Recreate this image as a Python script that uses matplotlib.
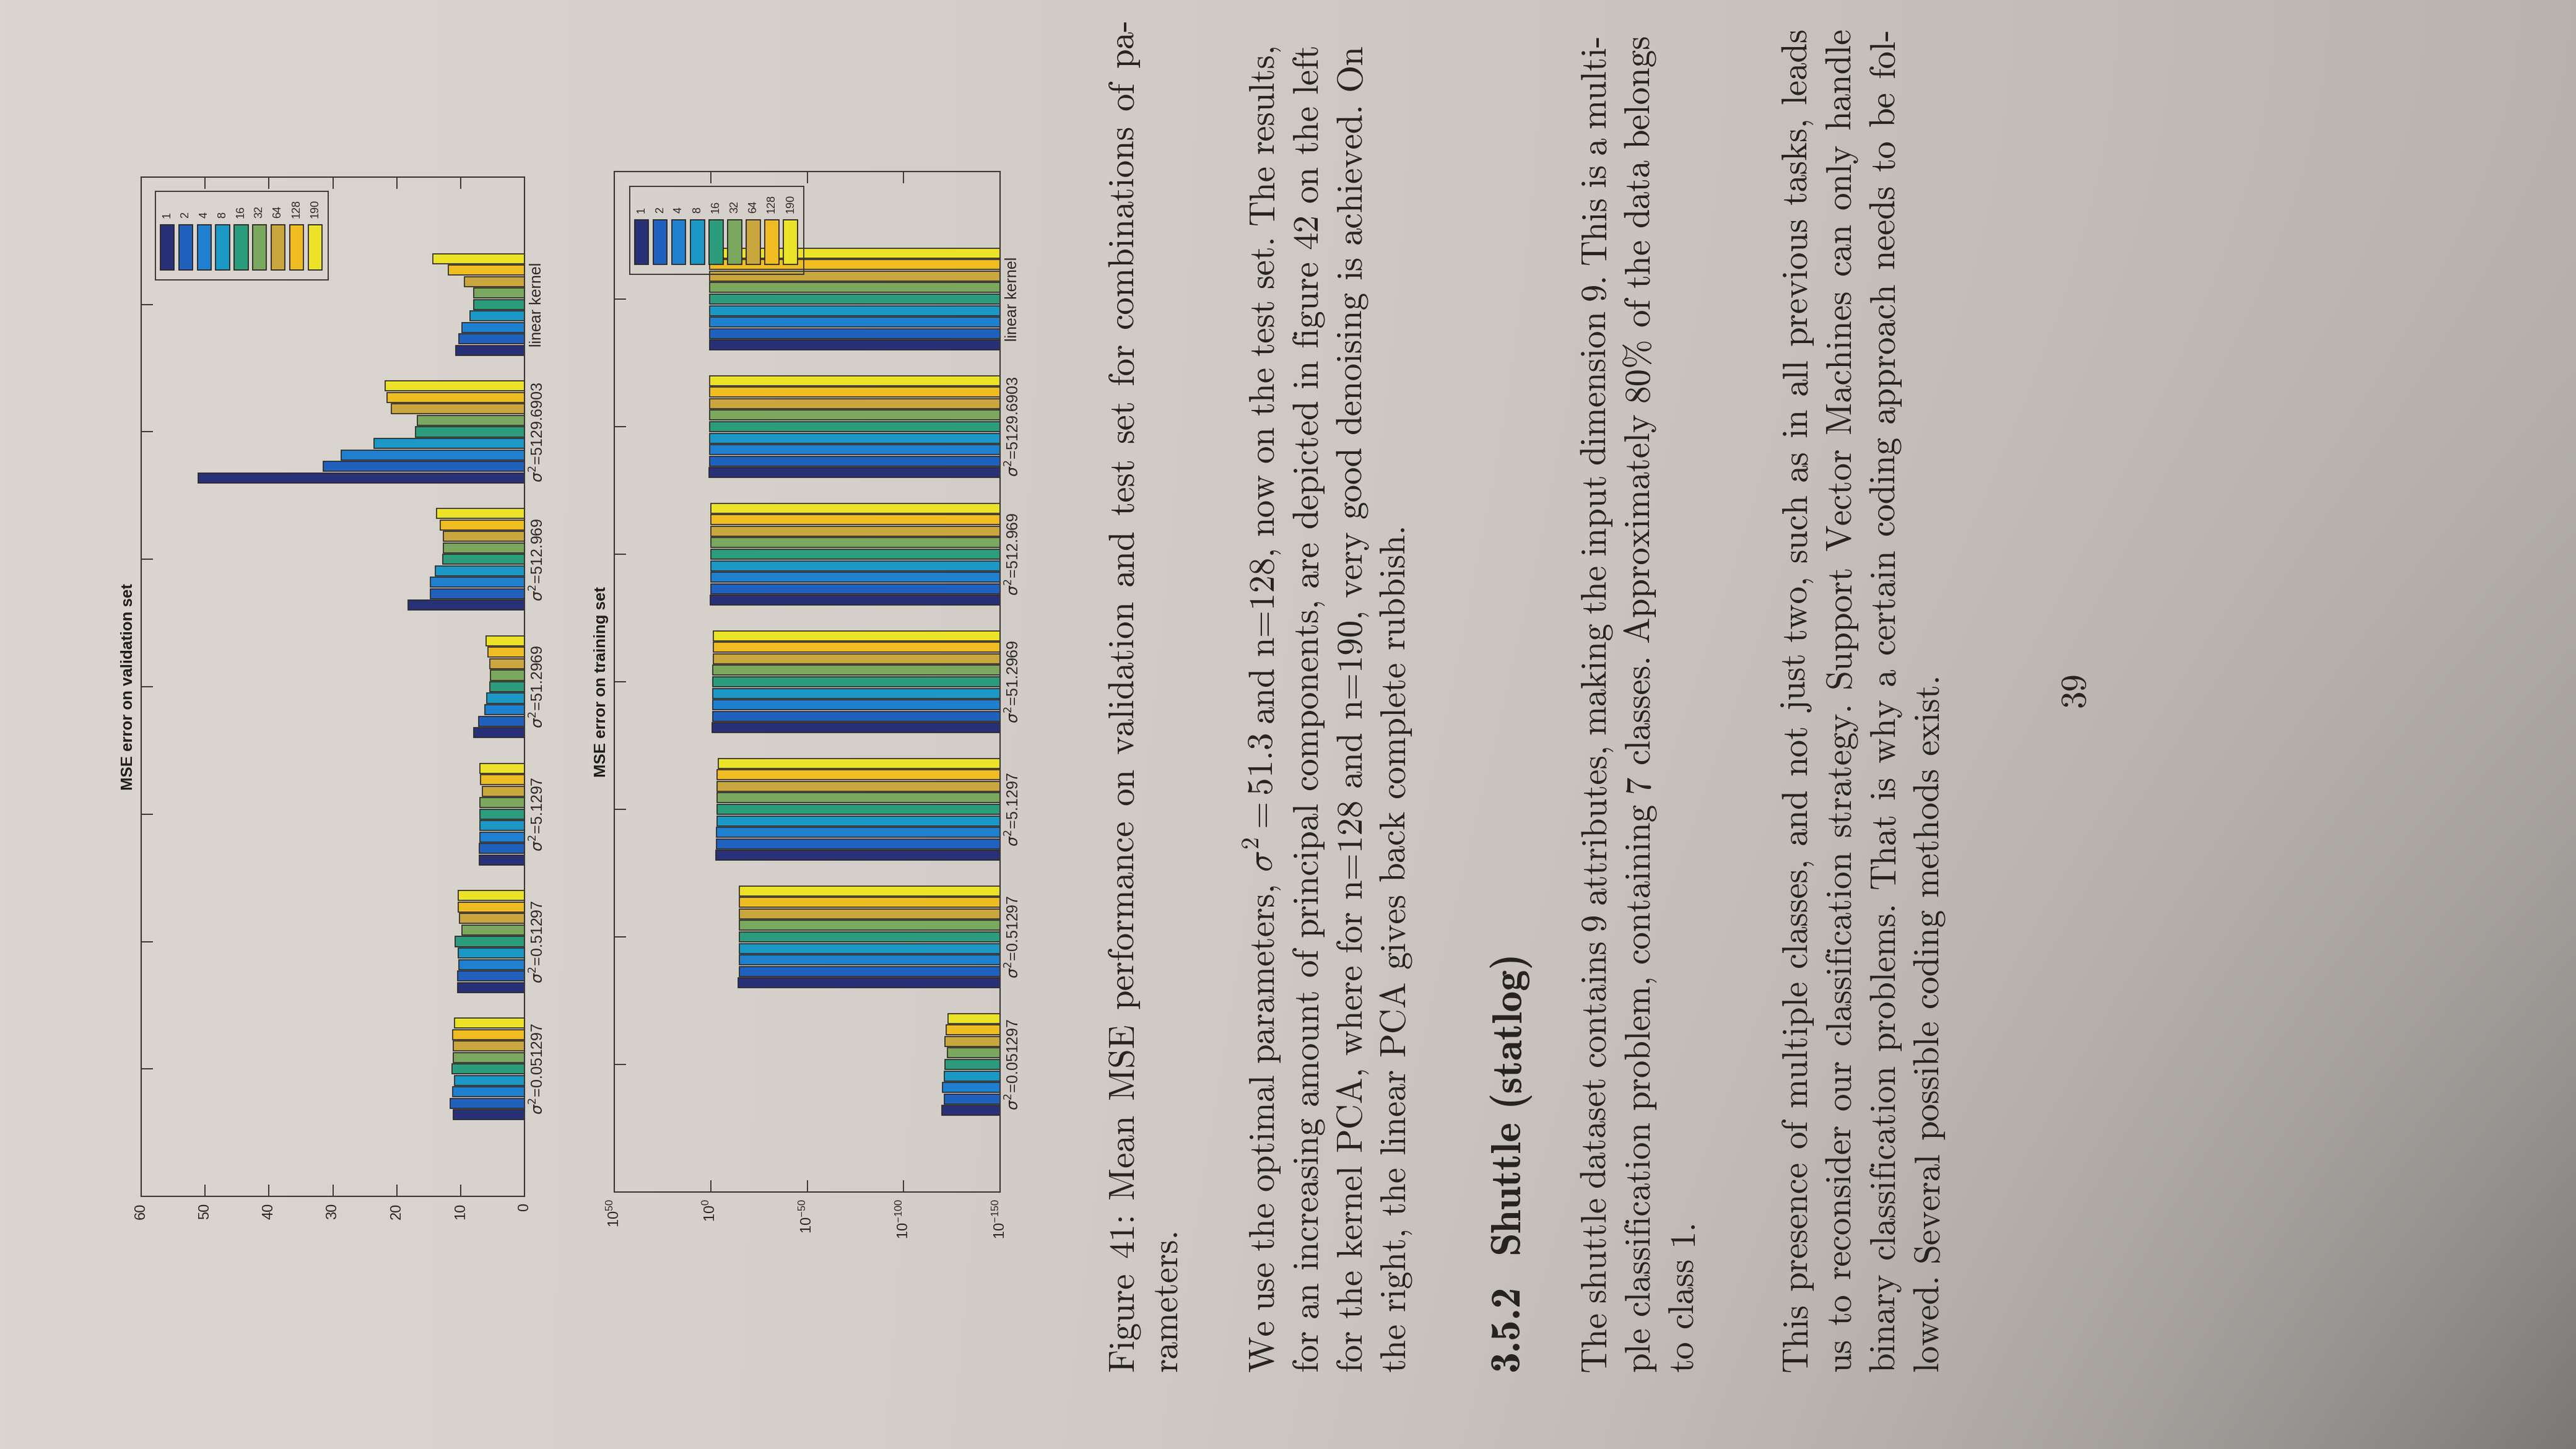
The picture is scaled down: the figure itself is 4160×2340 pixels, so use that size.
"""Foto de uma página (rodada 90°) com a Figura 41: MSE médio na validação
e no treino, para cada combinação de sigma² do kernel e nº de componentes.
"""
import re

import matplotlib
matplotlib.use('Agg')
import matplotlib.pyplot as plt
import numpy as np
from matplotlib.font_manager import FontProperties
from matplotlib.patches import Rectangle

W, H, DPI = 4160, 2340, 100

CATEGORIAS = [r'$\sigma^2$=0.051297', r'$\sigma^2$=0.51297', r'$\sigma^2$=5.1297',
              r'$\sigma^2$=51.2969', r'$\sigma^2$=512.969', r'$\sigma^2$=5129.6903',
              'linear kernel']
N_COMPONENTES = ['1', '2', '4', '8', '16', '32', '64', '128', '190']

# uma linha por n (ordem de N_COMPONENTES), uma coluna por categoria
MSE_VALIDACAO = [
    [11.1, 10.5, 7.1, 7.9, 18.2, 51.1, 10.8],
    [11.6, 10.5, 7.1, 7.2, 14.7, 31.5, 10.3],
    [11.2, 10.3, 7.0, 6.2, 14.7, 28.7, 9.8],
    [11.0, 10.4, 7.0, 5.9, 14.0, 23.6, 8.5],
    [11.3, 10.9, 7.0, 5.4, 12.8, 17.1, 7.9],
    [11.1, 9.8, 7.0, 5.3, 12.7, 16.8, 7.9],
    [11.1, 10.2, 6.6, 5.4, 12.7, 20.8, 9.4],
    [11.2, 10.4, 6.9, 5.7, 13.2, 21.5, 11.9],
    [11.0, 10.4, 7.0, 6.0, 13.8, 21.8, 14.3],
]
MSE_TREINO = [
    [2e-120, 8e-15, 3e-3, 0.2, 1.3, 5.5, 5.0],
    [8e-122, 2e-15, 8e-4, 0.1, 1.2, 5.0, 4.5],
    [5e-121, 2e-15, 8e-4, 0.1, 1.2, 5.0, 4.5],
    [8e-122, 2e-15, 6e-4, 0.09, 1.2, 5.0, 4.5],
    [4e-122, 2e-15, 6e-4, 0.07, 1.2, 5.0, 4.5],
    [2.5e-123, 2e-15, 6e-4, 0.07, 1.2, 5.0, 4.5],
    [4e-122, 2e-15, 4e-4, 0.05, 1.2, 5.0, 4.5],
    [1e-122, 2e-15, 4e-4, 0.05, 1.2, 5.0, 4.5],
    [1.3e-123, 2e-15, 1.5e-4, 0.05, 1.2, 5.0, 4.5],
]
TICKS_VALID = [0, 10, 20, 30, 40, 50, 60]
TICKS_TREINO = [1e-150, 1e-100, 1e-50, 1e0, 1e50]
ROTULOS_TREINO = [r'$\mathregular{10^{-150}}$', r'$\mathregular{10^{-100}}$',
                  r'$\mathregular{10^{-50}}$', r'$\mathregular{10^{0}}$',
                  r'$\mathregular{10^{50}}$']

# texto da página (linhas como impressas)
LEGENDA = ['Figure 41: Mean MSE performance on validation and test set for combinations of pa-',
           'rameters.']
PARAGRAFO_1 = [r'We use the optimal parameters, $\sigma^2 = 51.3$ and n=128, now on the test set. The results,',
               'for an increasing amount of principal components, are depicted in figure 42 on the left',
               'for the kernel PCA, where for n=128 and n=190, very good denoising is achieved. On',
               'the right, the linear PCA gives back complete rubbish.']
PARAGRAFO_2 = ['The shuttle dataset contains 9 attributes, making the input dimension 9. This is a multi-',
               'ple classification problem, containing 7 classes. Approximately 80% of the data belongs',
               'to class 1.']
PARAGRAFO_3 = ['This presence of multiple classes, and not just two, such as in all previous tasks, leads',
               'us to reconsider our classification strategy. Support Vector Machines can only handle',
               'binary classification problems. That is why a certain coding approach needs to be fol-',
               'lowed. Several possible coding methods exist.']

# ── Estilo ───────────────────────────────────────────────────────────────────

CORES = ['#283178', '#2061be', '#1f80d0', '#1b98c6', '#2b9c7c',
         '#7aa85e', '#caa63e', '#efbc22', '#ece328']
BORDA = '#2a2622'
COR_EIXO = '#3a3633'
COR_TEXTO = '#26221f'
plt.rcParams['font.family'] = ['Liberation Sans', 'DejaVu Sans']

fig = plt.figure(figsize=(W / DPI, H / DPI), dpi=DPI)


def frac(x0, y0, x1, y1):
    """caixa em pixels da foto (y para baixo) -> fração da figura"""
    return [x0 / W, 1 - y1 / H, (x1 - x0) / W, (y1 - y0) / H]


# fundo: papel com sombra para a direita / canto inferior
fundo = fig.add_axes([0, 0, 1, 1], zorder=-10)
X, Y = np.meshgrid(np.linspace(0, 1, 416), np.linspace(0, 1, 234))
f = 1 - 0.16 * X ** 1.6 - 0.28 * X ** 4 * Y ** 2
papel = np.array([219, 213, 208]) / 255
fundo.imshow(papel[None, None, :] * f[..., None], extent=[0, 1, 0, 1],
             aspect='auto', origin='upper', interpolation='bilinear')
fundo.axis('off')

# ── Gráficos de barras (rodados: barras horizontais, eixo invertido) ─────────

PASSO, ALT = 0.09, 0.078


def grafico(caixa, valores, titulo, log=False):
    ax = fig.add_axes(frac(*caixa))
    ax.set_facecolor('none')
    pos = np.arange(1, len(CATEGORIAS) + 1)
    base = 1e-150 if log else 0
    for i, (vals, cor) in enumerate(zip(valores, CORES)):
        ax.barh(pos + (i - 4) * PASSO, np.array(vals) - base, left=base,
                height=ALT, color=cor, edgecolor=BORDA, linewidth=1.2)
    if log:
        ax.set_xscale('log')
        ax.set_xlim(1e50, 1e-150)
        ax.set_xticks(TICKS_TREINO)
        ax.set_xticklabels(ROTULOS_TREINO)
        ax.minorticks_off()
    else:
        ax.set_xlim(60, 0)
        ax.set_xticks(TICKS_VALID)
        ax.set_xticklabels([str(t) for t in TICKS_VALID])
    ax.set_ylim(0, 8)
    ax.set_yticks(pos)
    ax.set_yticklabels(CATEGORIAS, rotation=90, va='center')
    for lab in ax.get_xticklabels():
        lab.set_rotation(90)
    ax.tick_params(axis='x', direction='in', top=True, bottom=True, length=14,
                   width=1.4, color=COR_EIXO, labelsize=17, labelcolor='#2a2623', pad=8)
    ax.tick_params(axis='y', direction='in', left=True, right=False, labelleft=False,
                   labelright=True, length=14, width=1.4, color=COR_EIXO,
                   labelsize=18, labelcolor='#2a2623', pad=6)
    for s in ax.spines.values():
        s.set_color(COR_EIXO)
        s.set_linewidth(1.5)
    ax.text(-0.015, 0.5, titulo, transform=ax.transAxes, rotation=90,
            ha='right', va='center', fontsize=18.5, fontweight='bold', color='#1e1b19')
    return ax


def legenda(caixa):
    lax = fig.add_axes(frac(*caixa))
    lax.set_xlim(0, 1)
    lax.set_ylim(0, 1)
    lax.set_xticks([])
    lax.set_yticks([])
    lax.set_facecolor('none')
    for s in lax.spines.values():
        s.set_color(COR_EIXO)
        s.set_linewidth(1.4)
    for i, (rot, cor) in enumerate(zip(N_COMPONENTES, CORES)):
        xc = 0.068 + i * 0.107
        lax.add_patch(Rectangle((xc - 0.04, 0.11), 0.08, 0.51, facecolor=cor,
                                edgecolor=BORDA, linewidth=1.3))
        lax.text(xc, 0.70, rot, rotation=90, ha='center', va='bottom',
                 fontsize=13, color='#2a2623')


grafico((228, 286, 847, 1932), MSE_VALIDACAO, 'MSE error on validation set')
legenda((251, 309, 530, 452))
grafico((992, 277, 1615, 1925), MSE_TREINO, 'MSE error on training set', log=True)
legenda((1017, 301, 1298, 443))

# ── Texto da página (rodado, justificado palavra a palavra) ──────────────────

FP_TEXTO = FontProperties(family='cmr10', size=41, math_fontfamily='cm')
FP_SECAO = FontProperties(family='cmb10', size=49, math_fontfamily='cm')
renderer = fig.canvas.get_renderer()


def linha(texto, x_base, y_ini, y_fim, fp, justificar=True):
    # palavras separadas por espaço; uma expressão $...$ fica numa peça só
    palavras = re.findall(r'\$[^$]*\$\S*|\S+', texto)
    larg = [renderer.get_text_width_height_descent(p, fp, ismath=('$' in p))[0]
            for p in palavras]
    em = fp.get_size_in_points() * DPI / 72
    if justificar and len(palavras) > 1:
        gap = ((y_ini - y_fim) - sum(larg)) / (len(palavras) - 1)
    else:
        gap = 0.333 * em
    y = y_ini
    for p, w in zip(palavras, larg):
        fig.text(x_base / W, 1 - y / H, p, fontproperties=fp, rotation=90,
                 rotation_mode='anchor', ha='left', va='baseline', color=COR_TEXTO)
        y -= w + gap


Y_INI = 2215
linha(LEGENDA[0], 1830, Y_INI, 30, FP_TEXTO)
linha(LEGENDA[1], 1900, Y_INI, 0, FP_TEXTO, justificar=False)

for txt, xb in zip(PARAGRAFO_1, [2056, 2127, 2198, 2268]):
    linha(txt, xb, Y_INI, 70, FP_TEXTO, justificar=not txt.endswith('rubbish.'))

linha('3.5.2', 2452, Y_INI, 0, FP_SECAO, justificar=False)
linha('Shuttle (statlog)', 2452, 2025, 0, FP_SECAO, justificar=False)

for txt, xb in zip(PARAGRAFO_2, [2592, 2663, 2733]):
    linha(txt, xb, Y_INI, 55, FP_TEXTO, justificar=not txt.endswith('class 1.'))

for txt, xb in zip(PARAGRAFO_3, [2917, 2988, 3059, 3130]):
    linha(txt, xb, Y_INI, 45, FP_TEXTO, justificar=not txt.endswith('exist.'))

# número da página
fig.text(3352 / W, 1 - 1114 / H, '39', fontproperties=FP_TEXTO, rotation=90,
         ha='center', va='center', color=COR_TEXTO)

fig.savefig('out.png', dpi=DPI)
plt.close(fig)
